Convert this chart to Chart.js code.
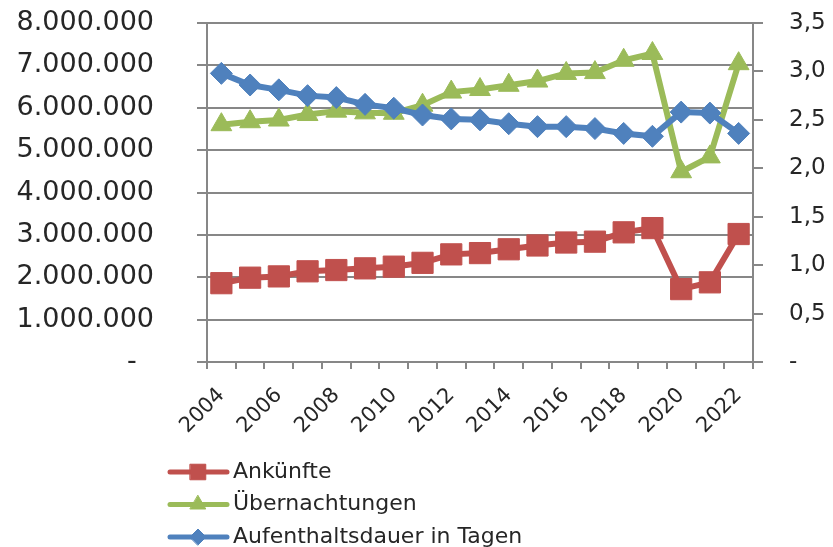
<!DOCTYPE html>
<html lang="de">
<head>
<meta charset="utf-8">
<title>Ankünfte und Übernachtungen 2004–2022</title>
<script src="https://cdn.jsdelivr.net/npm/chart.js@4/dist/chart.umd.min.js"></script>
<style>
  html, body { margin: 0; padding: 0; background: #fff; }
  #wrap { width: 833px; height: 547px; }
</style>
</head>
<body>
<div id="wrap"><canvas id="chart" width="833" height="547"></canvas></div>
<script>
// ── DATEN ─────────────────────────────────────────────────────────────────────

const jahre = ['2004','2005','2006','2007','2008','2009','2010','2011','2012','2013',
               '2014','2015','2016','2017','2018','2019','2020','2021','2022']

const ankuenfte = [1860000, 1990000, 2020000, 2140000, 2170000, 2210000, 2250000, 2340000, 2540000, 2570000,
                   2660000, 2750000, 2820000, 2840000, 3060000, 3160000, 1720000, 1880000, 3020000]

const uebernachtungen = [5600000, 5670000, 5710000, 5840000, 5920000, 5880000, 5870000, 6060000, 6370000, 6430000,
                         6530000, 6630000, 6810000, 6830000, 7120000, 7280000, 4490000, 4840000, 7040000]

const aufenthaltsdauer = [2.98, 2.86, 2.81, 2.75, 2.73, 2.66, 2.62, 2.55, 2.51, 2.50,
                          2.46, 2.43, 2.43, 2.41, 2.36, 2.33, 2.58, 2.57, 2.36]

const linksTicks  = [0, 1000000, 2000000, 3000000, 4000000, 5000000, 6000000, 7000000, 8000000]
const rechtsTicks = [0, 0.5, 1.0, 1.5, 2.0, 2.5, 3.0, 3.5]

// ── STIL ──────────────────────────────────────────────────────────────────────

const ROT   = '#C0504D'
const GRUEN = '#9BBB59'
const BLAU  = '#4F81BD'
const GRAU  = '#878787'
const TEXT  = '#262626'
const FONT  = '"DejaVu Sans", sans-serif'

const _fmtTsd = v => v === 0 ? '-  ' : String(v).replace(/\B(?=(\d{3})+(?!\d))/g, '.')
const _fmtDez = v => v === 0 ? '-' : v.toFixed(1).replace('.', ',')

// Die Tick-Padding würde sonst oben/unten als Rand aufaddiert
const _fixY = w => s => { s.width = w; s.paddingTop = 0; s.paddingBottom = 0 }

// Legende untereinander, Linie + Marker wie in Excel
const legendePlugin = {
  id: 'legende-vertikal',
  afterDraw(chart) {
    const { ctx } = chart
    const mini = [11, 9, 8]
    chart.data.datasets.forEach((ds, i) => {
      const y = 472 + i * 32.5
      ctx.save()
      ctx.strokeStyle = ds.borderColor
      ctx.lineWidth = 5
      ctx.lineCap = 'round'
      ctx.beginPath()
      ctx.moveTo(170, y); ctx.lineTo(227, y)
      ctx.stroke()
      ctx.fillStyle = ds.backgroundColor
      ctx.strokeStyle = ds.backgroundColor
      ctx.lineWidth = 1
      Chart.helpers.drawPoint(ctx, { pointStyle: ds.pointStyle, radius: mini[i], borderWidth: 1 }, 198, y)
      ctx.fillStyle = TEXT
      ctx.font = '22px ' + FONT
      ctx.textAlign = 'left'
      ctx.textBaseline = 'middle'
      ctx.fillText(ds.label, 233, y)
      ctx.restore()
    })
  }
}

// ── CHART ─────────────────────────────────────────────────────────────────────

new Chart(document.getElementById('chart'), {
  type: 'line',
  plugins: [legendePlugin],
  data: {
    labels: jahre,
    datasets: [
      { label: 'Ankünfte', data: ankuenfte, yAxisID: 'y', order: 3,
        borderColor: ROT, backgroundColor: ROT, borderWidth: 6,
        pointStyle: 'rect', pointRadius: 15, pointHoverRadius: 15, pointBorderWidth: 1 },
      { label: 'Übernachtungen', data: uebernachtungen, yAxisID: 'y', order: 2,
        borderColor: GRUEN, backgroundColor: GRUEN, borderWidth: 6,
        pointStyle: 'triangle', pointRadius: 12, pointHoverRadius: 12, pointBorderWidth: 1 },
      { label: 'Aufenthaltsdauer in Tagen', data: aufenthaltsdauer, yAxisID: 'y2', order: 1,
        borderColor: BLAU, backgroundColor: BLAU, borderWidth: 6,
        pointStyle: 'rectRot', pointRadius: 11, pointHoverRadius: 11, pointBorderWidth: 1 }
    ]
  },
  options: {
    responsive: false, animation: false,
    layout: { padding: { top: 23, right: 0, left: 0, bottom: 0 } },
    plugins: { legend: { display: false }, tooltip: { enabled: false } },
    scales: {
      x: {
        offset: true,
        afterFit: s => { s.height = 185 },
        grid: { offset: true, drawOnChartArea: false, color: GRAU, lineWidth: 2, tickLength: 7, tickColor: GRAU },
        border: { color: GRAU, width: 2 },
        ticks: {
          autoSkip: false, minRotation: 45, maxRotation: 45, padding: 14,
          color: TEXT, font: { family: FONT, size: 21 },
          callback(val, i) { return i % 2 === 0 ? this.getLabelForValue(val) : '' }
        }
      },
      y: {
        position: 'left', min: 0, max: 8000000,
        afterFit: _fixY(207),
        afterBuildTicks: s => { s.ticks = linksTicks.map(v => ({ value: v })) },
        grid: { color: GRAU, lineWidth: 2, tickLength: 10 },
        border: { color: GRAU, width: 2 },
        ticks: { padding: 43, color: TEXT, font: { family: FONT, size: 27 }, callback: v => _fmtTsd(v) }
      },
      y2: {
        position: 'right', min: 0, max: 3.5,
        afterFit: _fixY(80),
        afterBuildTicks: s => { s.ticks = rechtsTicks.map(v => ({ value: v })) },
        grid: { drawOnChartArea: false, color: GRAU, lineWidth: 2, tickLength: 10 },
        border: { color: GRAU, width: 2 },
        ticks: { padding: 26, color: TEXT, font: { family: FONT, size: 23 }, callback: v => _fmtDez(v) }
      }
    }
  }
})
</script>
</body>
</html>
